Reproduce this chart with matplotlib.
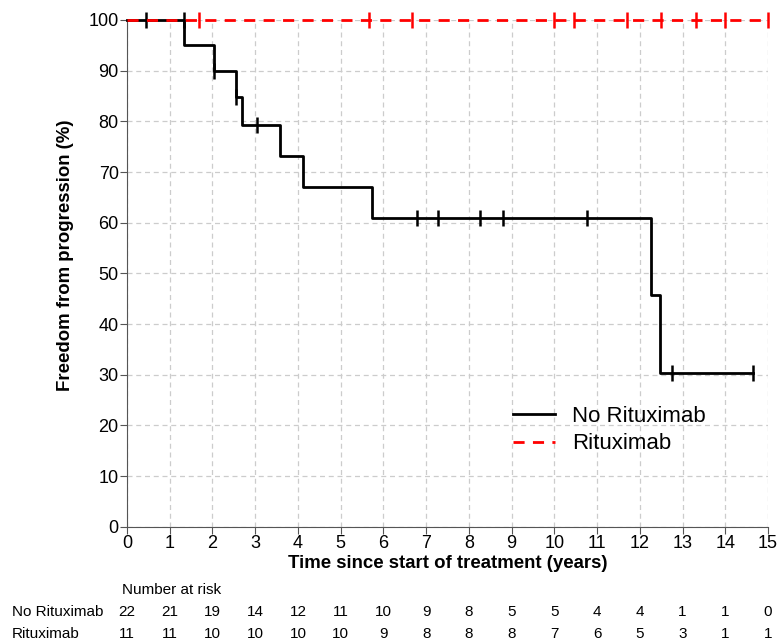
import matplotlib.pyplot as plt

plt.rcParams['font.family'] = ['Liberation Sans', 'DejaVu Sans']

# step curve: no rituximab
no_rtx_t = [0, 1.33, 2.04, 2.54, 2.68, 3.57, 4.11, 5.73, 12.27, 12.46, 14.64]
no_rtx_s = [100, 95, 90, 84.8, 79.2, 73.2, 67.0, 60.9, 45.7, 30.4, 30.4]
no_rtx_cens_t = [0.44, 1.33, 2.04, 2.54, 3.05, 6.79, 7.27, 8.26, 8.79, 10.76, 12.75, 14.64]
no_rtx_cens_s = [100, 100, 90, 84.8, 79.2, 60.9, 60.9, 60.9, 60.9, 60.9, 30.4, 30.4]

# rituximab: no events
rtx_t = [0, 15.0]
rtx_s = [100, 100]
rtx_cens_t = [1.69, 5.67, 6.66, 9.98, 10.46, 11.69, 12.50, 13.32, 13.99, 15.0]

years = list(range(16))
risk_no_rtx = [22, 21, 19, 14, 12, 11, 10, 9, 8, 5, 5, 4, 4, 1, 1, 0]
risk_rtx = [11, 11, 10, 10, 10, 10, 9, 8, 8, 8, 7, 6, 5, 3, 1, 1]

fig = plt.figure(figsize=(7.79, 6.44), dpi=100)
ax = fig.add_axes([0.163, 0.182, 0.823, 0.787])

ax.step(no_rtx_t, no_rtx_s, where='post', color='black', lw=2, label='No Rituximab', clip_on=False, zorder=3)
ax.plot(no_rtx_cens_t, no_rtx_cens_s, ls='none', marker='|', ms=11, mew=1.8, color='black', clip_on=False, zorder=3)
ax.step(rtx_t, rtx_s, where='post', color='red', lw=2, ls=(0, (4, 3)), label='Rituximab', clip_on=False, zorder=4)
ax.plot(rtx_cens_t, [100] * len(rtx_cens_t), ls='none', marker='|', ms=11, mew=1.8, color='red', clip_on=False, zorder=4)

ax.set_xlim(0, 15)
ax.set_ylim(0, 100)
ax.set_xticks(years)
ax.set_yticks(range(0, 101, 10))
ax.grid(True, color='#cccccc', ls=(0, (4, 3)), lw=0.9)
ax.set_axisbelow(True)
for s in ['top', 'right']:
    ax.spines[s].set_visible(False)
for s in ['left', 'bottom']:
    ax.spines[s].set_color('#555555')
ax.tick_params(labelsize=13, length=5, color='#555555', pad=1)

ax.set_xlabel('Time since start of treatment (years)', fontsize=13.4, fontweight='bold', labelpad=2)
ax.set_ylabel('Freedom from progression (%)', fontsize=13.4, fontweight='bold')
ax.yaxis.set_label_coords(-0.082, 0.535)

ax.legend(loc='center left', bbox_to_anchor=(0.571, 0.191), frameon=False, fontsize=16,
          handlelength=1.9, handletextpad=0.75, labelspacing=0.3)

# number at risk table
trans = ax.get_xaxis_transform()
fig.text(122 / 779, 1 - 590 / 644, 'Number at risk', fontsize=11, va='center')
fig.text(12 / 779, 1 - 612 / 644, 'No Rituximab', fontsize=11, va='center')
fig.text(12 / 779, 1 - 634 / 644, 'Rituximab', fontsize=11, va='center')
ax_h = 0.787 * 644
for x, a, b in zip(years, risk_no_rtx, risk_rtx):
    ax.text(x, -(612 - 527) / ax_h, str(a), transform=trans, ha='center', va='center', fontsize=11)
    ax.text(x, -(634 - 527) / ax_h, str(b), transform=trans, ha='center', va='center', fontsize=11)

fig.savefig('out.png', dpi=100)
